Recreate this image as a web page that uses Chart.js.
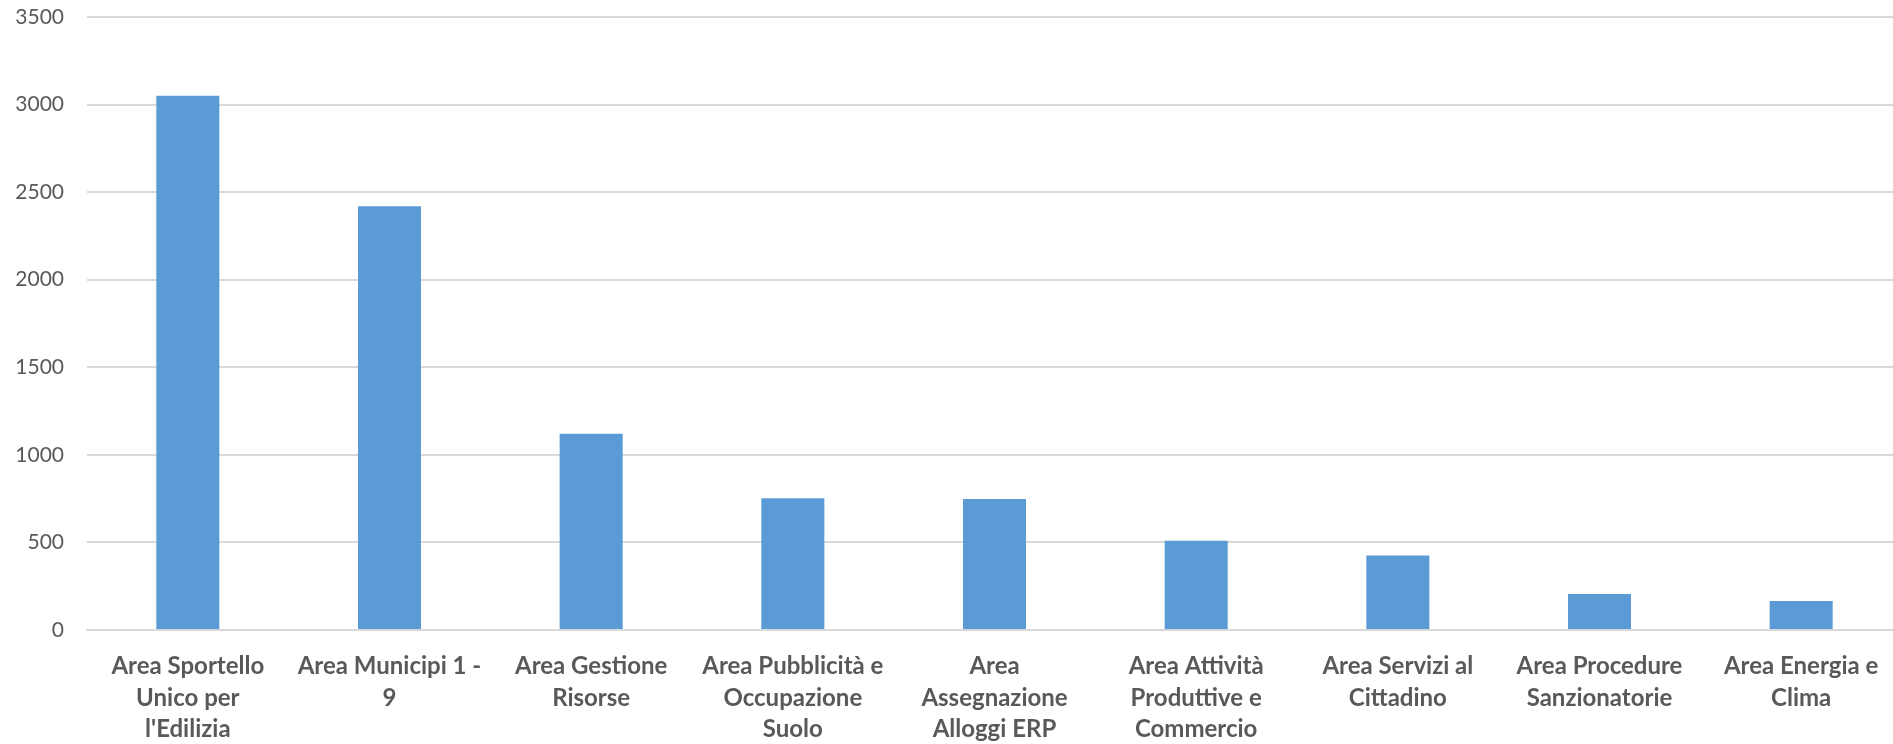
<!DOCTYPE html>
<html>
<head>
<meta charset="utf-8">
<script src="https://cdn.jsdelivr.net/npm/chart.js@4"></script>
<style>
  html, body { margin: 0; padding: 0; background: #ffffff; overflow: hidden; }
  #wrap { width: 1893px; height: 744px; overflow: hidden; }
</style>
</head>
<body>
<div id="wrap"><canvas id="c" width="1902" height="744"></canvas></div>
<script>
const categories = [
  ["Area Sportello", "Unico per", "l'Edilizia"],
  ["Area Municipi 1 -", "9"],
  ["Area Gestione", "Risorse"],
  ["Area Pubblicità e", "Occupazione", "Suolo"],
  ["Area", "Assegnazione", "Alloggi ERP"],
  ["Area Attività", "Produttive e", "Commercio"],
  ["Area Servizi al", "Cittadino"],
  ["Area Procedure", "Sanzionatorie"],
  ["Area Energia e", "Clima"]
];
const values = [3050, 2420, 1120, 752, 748, 510, 426, 206, 166];
const yMin = 0;
const yMax = 3500;
const yStep = 500;

const FONT = "Lato, 'Open Sans', sans-serif";

new Chart(document.getElementById('c'), {
  type: 'bar',
  data: {
    labels: categories,
    datasets: [{
      data: values,
      backgroundColor: '#5B9BD5',
      borderWidth: 0,
      barPercentage: 0.625,
      categoryPercentage: 0.5
    }]
  },
  options: {
    responsive: false,
    animation: false,
    devicePixelRatio: 1,
    layout: { padding: { top: 17, right: 0, left: 0, bottom: 0 } },
    plugins: { legend: { display: false }, tooltip: { enabled: false } },
    scales: {
      x: {
        afterFit: (s) => { s.height = 114; },
        grid: { display: false, drawTicks: false },
        border: { display: true, color: '#d9d9d9', width: 2 },
        ticks: {
          color: '#595959',
          font: { family: FONT, size: 24, weight: 'bold', lineHeight: 1.31 },
          padding: 21,
          maxRotation: 0,
          minRotation: 0,
          autoSkip: false
        }
      },
      y: {
        min: yMin,
        max: yMax,
        afterFit: (s) => { s.width = 87; s.paddingTop = 0; s.paddingBottom = 0; },
        grid: { color: '#d9d9d9', lineWidth: 2, drawTicks: false },
        border: { display: false },
        ticks: {
          stepSize: yStep,
          color: '#595959',
          font: { family: FONT, size: 21 },
          padding: 23,
          callback: (v) => String(v)
        }
      }
    }
  }
});
</script>
</body>
</html>
